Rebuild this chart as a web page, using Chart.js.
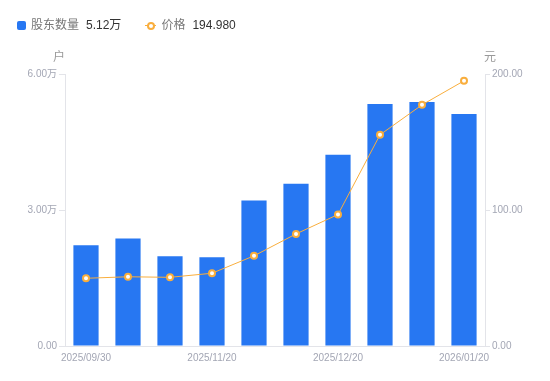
<!DOCTYPE html>
<html>
<head>
<meta charset="utf-8">
<script src="https://cdn.jsdelivr.net/npm/chart.js@4.4.0/dist/chart.umd.min.js"></script>
<style>
  html, body { margin: 0; padding: 0; background: #fff; }
  #wrap { position: relative; width: 550px; height: 381px; }
  #legend {
    position: absolute; left: 17px; top: 16px;
    font-family: "Liberation Sans", "Noto Sans CJK SC", sans-serif;
    font-size: 12px; line-height: 18px; display: flex; align-items: center;
  }
  .lg-item { display: flex; align-items: center; margin-right: 24px; }
  .lg-name { color: #777; margin-right: 7px; }
  .lg-val { color: #333; }
  .sw-bar { width: 9px; height: 9px; background: #2777f2; border-radius: 2px; margin-right: 5px; }
  .sw-line { position: relative; width: 11px; height: 9px; margin-right: 5px; }
  .sw-line:before { content: ""; position: absolute; left: 0; right: 0; top: 4px; height: 1px; background: #f9ae3d; }
  .sw-line:after { content: ""; position: absolute; left: 2px; top: 1px; width: 4px; height: 4px; border: 2px solid #f9ae3d; border-radius: 50%; background: #fff; }
</style>
</head>
<body>
<div id="wrap">
  <canvas id="c" width="550" height="381"></canvas>
  <div id="legend">
    <div class="lg-item"><span class="sw-bar"></span><span class="lg-name">股东数量</span><span class="lg-val">5.12万</span></div>
    <div class="lg-item"><span class="sw-line"></span><span class="lg-name">价格</span><span class="lg-val">194.980</span></div>
  </div>
</div>
<script>
  // ---- data ----
  var dates = ['2025/09/30', '2025/10/20', '2025/10/31', '2025/11/20', '2025/11/30',
               '2025/12/10', '2025/12/20', '2025/12/31', '2026/01/10', '2026/01/20'];
  var holders = [2.22, 2.37, 1.98, 1.96, 3.21, 3.58, 4.22, 5.34, 5.38, 5.12]; // 万户
  var prices = [49.8, 50.9, 50.5, 53.5, 66.3, 82.4, 96.7, 155.3, 177.3, 194.98];
  var shownDates = [0, 3, 6, 9];

  var FONT = '"Liberation Sans", "Noto Sans CJK SC", sans-serif';
  var GRAY = '#a3a6b4';
  var AXIS = '#e3e4e9';

  // unit titles above the two y axes
  var unitTitles = {
    id: 'unitTitles',
    afterDraw: function(chart) {
      var ctx = chart.ctx;
      ctx.save();
      ctx.font = '12px ' + FONT;
      ctx.fillStyle = '#999';
      ctx.textAlign = 'center';
      ctx.textBaseline = 'middle';
      ctx.fillText('户', chart.scales.y.right - 6, 58);
      ctx.fillText('元', chart.scales.y1.left + 5, 58);
      ctx.restore();
    }
  };

  new Chart(document.getElementById('c'), {
    data: {
      labels: dates,
      datasets: [{
        type: 'line',
        label: '价格',
        data: prices,
        yAxisID: 'y1',
        borderColor: '#f9ae3d',
        borderWidth: 1,
        pointRadius: 3,
        pointBorderWidth: 2,
        pointBackgroundColor: '#fff',
        pointBorderColor: '#f9ae3d',
        tension: 0,
        order: 0
      }, {
        type: 'bar',
        label: '股东数量',
        data: holders,
        yAxisID: 'y',
        backgroundColor: '#2777f2',
        categoryPercentage: 0.6,
        barPercentage: 1,
        order: 1
      }]
    },
    options: {
      responsive: false,
      animation: false,
      layout: { padding: { top: 74, left: 0, right: 0, bottom: 0 } },
      plugins: {
        legend: { display: false },
        tooltip: { enabled: false }
      },
      scales: {
        x: {
          offset: true,
          grid: { display: true, drawOnChartArea: false, drawTicks: false },
          border: { color: AXIS },
          ticks: {
            autoSkip: false,
            maxRotation: 0,
            padding: 6,
            color: GRAY,
            font: { family: FONT, size: 10 },
            callback: function(v, i) { return shownDates.indexOf(i) !== -1 ? dates[i] : ''; }
          },
          afterFit: function(s) { s.height = 35; }
        },
        y: {
          position: 'left',
          min: 0, max: 6,
          grid: { drawOnChartArea: false, tickLength: 6, color: AXIS },
          border: { color: AXIS },
          ticks: {
            stepSize: 3,
            padding: 2,
            color: GRAY,
            font: { family: FONT, size: 10 },
            callback: function(v) { return v === 0 ? '0.00' : v.toFixed(2) + '万'; }
          },
          afterFit: function(s) { s.width = 65; }
        },
        y1: {
          position: 'right',
          min: 0, max: 200,
          grid: { drawOnChartArea: false, tickLength: 5, color: AXIS },
          border: { color: AXIS },
          ticks: {
            stepSize: 100,
            padding: 2,
            color: GRAY,
            font: { family: FONT, size: 10 },
            callback: function(v) { return v.toFixed(2); }
          },
          afterFit: function(s) { s.width = 65; }
        }
      }
    },
    plugins: [unitTitles]
  });
</script>
</body>
</html>
